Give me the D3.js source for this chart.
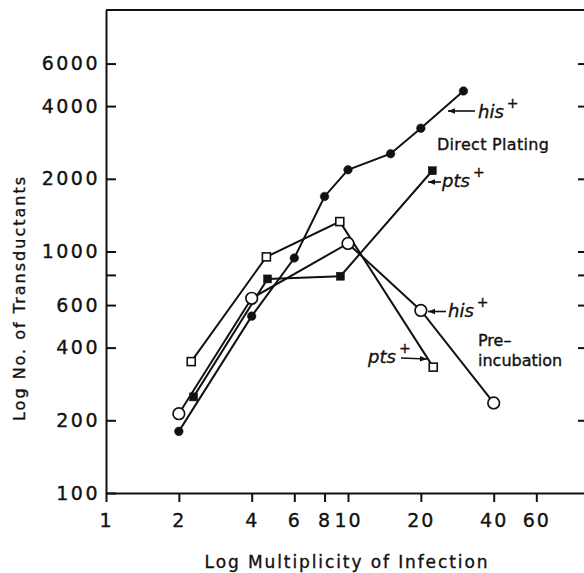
<!DOCTYPE html>
<html>
<head>
<meta charset="utf-8">
<script src="https://cdn.jsdelivr.net/npm/d3@7"></script>
<style>
body { margin: 0; background: #fff; }
svg { display: block; }
text { font-family: "DejaVu Sans", sans-serif; fill: #111; stroke: #111; stroke-width: 0.35px; }
</style>
</head>
<body>
<div id="chart"></div>
<script>
// his+ , direct plating (filled circles)
const hisDirectMOI = [2, 4, 6, 8, 10, 15, 20, 30];
const hisDirectCount = [180, 540, 940, 1690, 2180, 2540, 3240, 4620];
// pts+ , direct plating (filled squares)
const ptsDirectMOI = [2.3, 4.65, 9.3, 22.3];
const ptsDirectCount = [250, 770, 790, 2160];
// his+ , pre-incubation (open circles)
const hisPreMOI = [2, 4, 10, 20, 40];
const hisPreCount = [213, 640, 1080, 570, 236];
// pts+ , pre-incubation (open squares)
const ptsPreMOI = [2.25, 4.6, 9.25, 22.5];
const ptsPreCount = [350, 950, 1330, 332];

const xTicks = [1, 2, 4, 6, 8, 10, 20, 40, 60];
const yTicks = [100, 200, 400, 600, 800, 1000, 2000, 4000, 6000];

const width = 584, height = 573;
const ink = "#111";

const x = d3.scaleLog().domain([1, 100]).range([106, 590]);
const y = d3.scaleLog().domain([100, 10000]).range([493, 10]);

const svg = d3.select("#chart").append("svg")
    .attr("width", width)
    .attr("height", height);

svg.append("defs").append("marker")
    .attr("id", "arr")
    .attr("viewBox", "0 0 10 10")
    .attr("refX", 10).attr("refY", 5)
    .attr("markerWidth", 8).attr("markerHeight", 7)
    .attr("markerUnits", "userSpaceOnUse")
    .attr("orient", "auto")
    .append("path")
    .attr("d", "M0,1 L10,5 L0,9 Z")
    .attr("fill", ink);

function styleAxis(g, size, spacing) {
    g.attr("font-size", null).attr("font-family", null);
    g.select(".domain").attr("stroke", ink).attr("stroke-width", 2);
    g.selectAll(".tick line").attr("stroke", ink).attr("stroke-width", 2);
    g.selectAll(".tick text")
        .attr("fill", ink)
        .style("font-size", size + "px")
        .style("letter-spacing", spacing + "px");
}

// left axis: ticks point into the plot, labels outside
svg.append("g")
    .attr("transform", `translate(${x(1)},0)`)
    .call(d3.axisLeft(y)
        .tickValues(yTicks)
        .tickFormat(d => d === 800 ? "" : d)
        .tickSizeInner(-10)
        .tickSizeOuter(0)
        .tickPadding(6))
    .call(g => styleAxis(g, 19, 2.5));

// right axis (only the ticks show)
svg.append("g")
    .attr("transform", `translate(${x(100)},0)`)
    .call(d3.axisLeft(y)
        .tickValues(yTicks.filter(d => d > 100))
        .tickFormat("")
        .tickSizeInner(12)
        .tickSizeOuter(0))
    .call(g => styleAxis(g, 19, 0));

// bottom axis
svg.append("g")
    .attr("transform", `translate(0,${y(100)})`)
    .call(d3.axisBottom(x)
        .tickValues(xTicks)
        .tickFormat(d3.format("d"))
        .tickSizeInner(9)
        .tickSizeOuter(0)
        .tickPadding(12))
    .call(g => styleAxis(g, 19, 2));

// top frame
svg.append("line")
    .attr("x1", x(1)).attr("x2", x(100))
    .attr("y1", y(10000)).attr("y2", y(10000))
    .attr("stroke", ink).attr("stroke-width", 2);

// axis titles
svg.append("text")
    .attr("transform", "translate(25,298) rotate(-90)")
    .attr("text-anchor", "middle")
    .style("font-size", "16px")
    .style("letter-spacing", "2px")
    .text("Log No. of Transductants");

svg.append("text")
    .attr("x", 347).attr("y", 568)
    .attr("text-anchor", "middle")
    .style("font-size", "17px")
    .style("letter-spacing", "1.9px")
    .text("Log Multiplicity of Infection");

// series
const series = [
    {name: "hisDirect", pts: d3.zip(hisDirectMOI, hisDirectCount), shape: "circle", filled: true},
    {name: "ptsDirect", pts: d3.zip(ptsDirectMOI, ptsDirectCount), shape: "square", filled: true},
    {name: "hisPre", pts: d3.zip(hisPreMOI, hisPreCount), shape: "circle", filled: false},
    {name: "ptsPre", pts: d3.zip(ptsPreMOI, ptsPreCount), shape: "square", filled: false}
];

const line = d3.line().x(d => x(d[0])).y(d => y(d[1]));

series.forEach(s => {
    svg.append("path")
        .attr("d", line(s.pts))
        .attr("fill", "none")
        .attr("stroke", ink)
        .attr("stroke-width", 2);
});

series.forEach(s => {
    const g = svg.append("g").attr("class", s.name);
    if (s.shape === "circle") {
        g.selectAll("circle").data(s.pts).join("circle")
            .attr("cx", d => x(d[0]))
            .attr("cy", d => y(d[1]))
            .attr("r", s.filled ? 4.3 : 5.8)
            .attr("fill", s.filled ? ink : "#fff")
            .attr("stroke", ink)
            .attr("stroke-width", s.filled ? 0.5 : 1.7);
    } else {
        const sz = 8;
        g.selectAll("rect").data(s.pts).join("rect")
            .attr("x", d => x(d[0]) - sz / 2)
            .attr("y", d => y(d[1]) - sz / 2)
            .attr("width", sz).attr("height", sz)
            .attr("fill", s.filled ? ink : "#fff")
            .attr("stroke", ink)
            .attr("stroke-width", s.filled ? 0.5 : 1.6);
    }
});

// annotations
function arrow(x1, y1, x2, y2) {
    svg.append("line")
        .attr("x1", x1).attr("y1", y1)
        .attr("x2", x2).attr("y2", y2)
        .attr("stroke", ink).attr("stroke-width", 1.6)
        .attr("marker-end", "url(#arr)");
}

function gene(tx, ty, label) {
    const t = svg.append("text")
        .attr("x", tx).attr("y", ty)
        .style("font-size", "18px")
        .style("font-style", "italic");
    t.append("tspan").text(label);
    t.append("tspan")
        .attr("dx", 3).attr("dy", -10)
        .style("font-size", "14px")
        .text("+");
}

arrow(475, 111, 448, 111);
gene(478, 118, "his");

svg.append("text")
    .attr("x", 437).attr("y", 150)
    .style("font-size", "16px")
    .style("letter-spacing", "0.3px")
    .text("Direct Plating");

arrow(441, 182, 428, 182);
gene(442, 187, "pts");

arrow(446, 311.5, 428, 311.5);
gene(448, 317, "his");

svg.append("text")
    .attr("x", 478).attr("y", 346)
    .style("font-size", "16px")
    .text("Pre–");
svg.append("text")
    .attr("x", 478).attr("y", 366)
    .style("font-size", "16px")
    .text("incubation");

gene(368, 363, "pts");
arrow(401, 358, 427, 359);
</script>
</body>
</html>
